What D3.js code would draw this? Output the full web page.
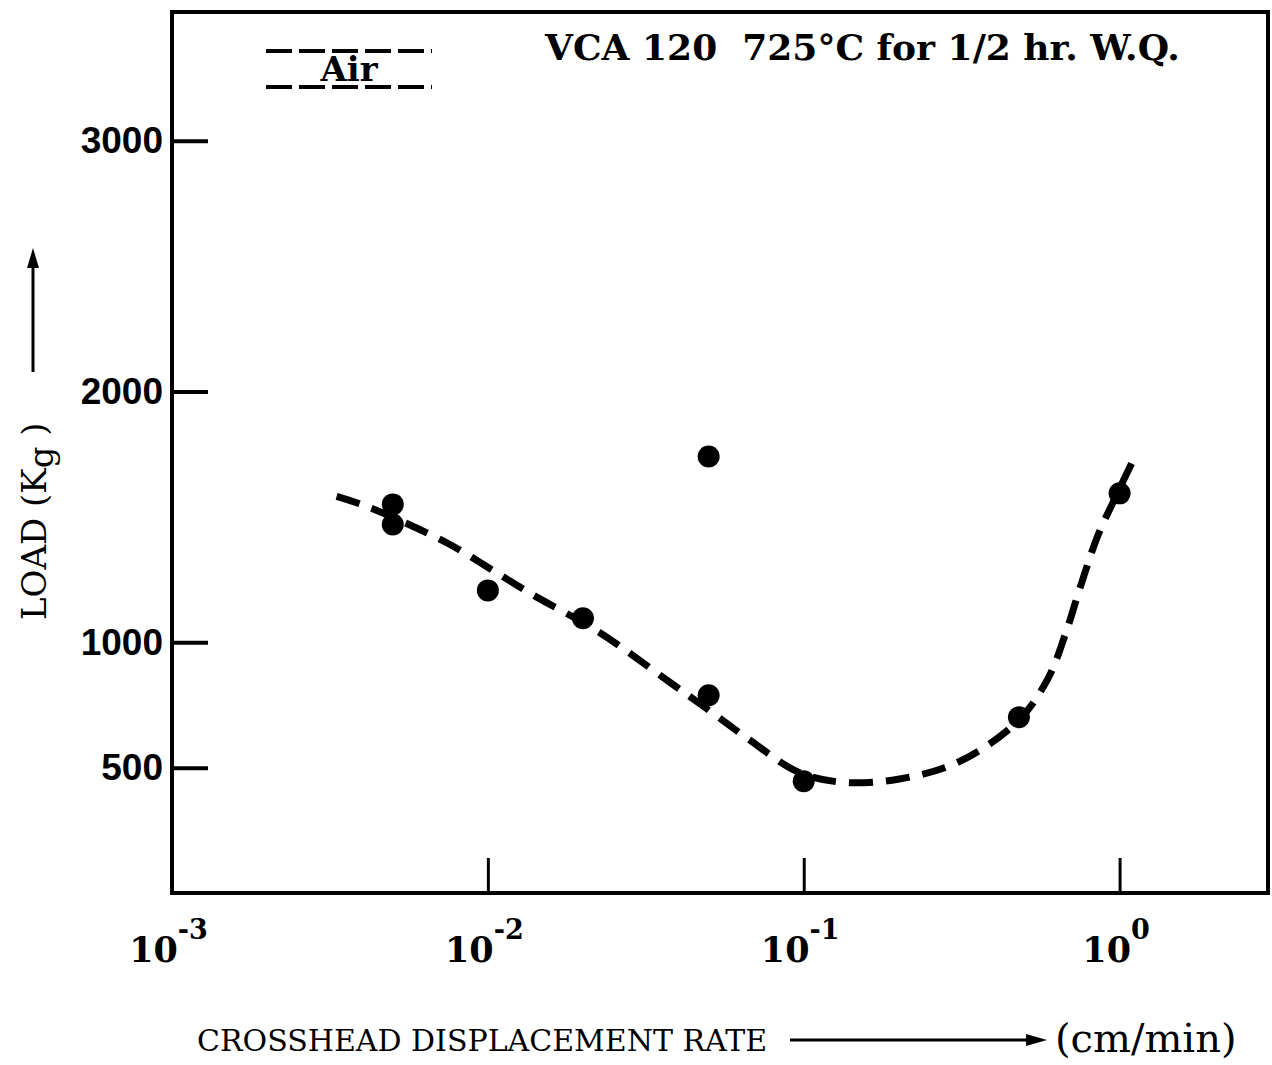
<!DOCTYPE html>
<html>
<head>
<meta charset="utf-8">
<script src="https://cdn.jsdelivr.net/npm/d3@7"></script>
<style>
  body { margin: 0; background: #fff; }
  svg { display: block; }
</style>
</head>
<body>
<div id="chart"></div>
<script>
// crosshead rate (cm/min) and load (Kg) of the test points
const pointRate = [0.005, 0.005, 0.01, 0.02, 0.05, 0.05, 0.1, 0.48, 1.0];
const pointLoad = [1550, 1470, 1207, 1096, 1741, 789, 446, 701, 1594];

// dashed trend curve
const curveRate = [0.00332, 0.00413, 0.00738, 0.01086, 0.0138, 0.0225, 0.0365, 0.0511, 0.0668,
                   0.0962, 0.1315, 0.199, 0.308, 0.476, 0.592, 0.670, 0.752, 0.851, 0.963, 1.114];
const curveLoad = [1582, 1542, 1398, 1271, 1191, 1040, 853, 721, 614,
                   482, 442, 454, 522, 685, 853, 1024, 1223, 1422, 1570, 1737];

const yTicks = [500, 1000, 2000, 3000];
const xTicks = [1e-3, 1e-2, 1e-1, 1];
const xTickExp = ["-3", "-2", "-1", "0"];

const W = 1272, H = 1065;
const margin = { top: 12, right: 4, bottom: 172, left: 172 };
const width = W - margin.left - margin.right,
      height = H - margin.top - margin.bottom;

const serif = "'DejaVu Serif', serif";
const sans = "'Liberation Sans', Arial, sans-serif";

const svg = d3.select("#chart").append("svg")
  .attr("width", W)
  .attr("height", H);

const g = svg.append("g")
  .attr("transform", `translate(${margin.left},${margin.top})`);

const x = d3.scaleLog()
  .domain([1e-3, 2.95])
  .range([0, width]);

const y = d3.scaleLinear()
  .domain([0, 3514])
  .range([height, 0]);

// frame
g.append("rect")
  .attr("width", width)
  .attr("height", height)
  .attr("fill", "none")
  .attr("stroke", "#000")
  .attr("stroke-width", 4);

// y axis, ticks pointing inward
const yAxis = g.append("g")
  .call(d3.axisLeft(y).tickValues(yTicks).tickFormat(d3.format("d"))
    .tickSizeInner(-36).tickSizeOuter(0).tickPadding(9));
yAxis.select(".domain").remove();
yAxis.selectAll(".tick line").attr("stroke", "#000").attr("stroke-width", 4);
yAxis.selectAll(".tick text")
  .attr("font-family", sans)
  .attr("font-weight", "bold")
  .attr("font-size", 37)
  .attr("fill", "#000");

// x axis, ticks pointing inward, labels as powers of ten
const xAxis = g.append("g")
  .attr("transform", `translate(0,${height})`)
  .call(d3.axisBottom(x).tickValues(xTicks).tickSizeInner(-35).tickSizeOuter(0).tickFormat(""));
xAxis.select(".domain").remove();
xAxis.selectAll(".tick line").attr("stroke", "#000").attr("stroke-width", 3);
xAxis.selectAll(".tick text").remove();
xAxis.selectAll(".tick").append("text")
  .attr("y", 69)
  .attr("x", -4)
  .attr("text-anchor", "middle")
  .attr("font-family", serif)
  .attr("font-weight", "bold")
  .attr("fill", "#000")
  .each(function(d, i) {
    const t = d3.select(this);
    t.append("tspan").attr("font-size", 35).text("10");
    t.append("tspan").attr("font-size", 27).attr("dy", -23).text(xTickExp[i]);
  });

// dashed curve
const line = d3.line()
  .x((d, i) => x(curveRate[i]))
  .y((d, i) => y(curveLoad[i]))
  .curve(d3.curveCatmullRom.alpha(0.5));

g.append("path")
  .datum(curveRate)
  .attr("d", line)
  .attr("fill", "none")
  .attr("stroke", "#000")
  .attr("stroke-width", 7)
  .attr("stroke-dasharray", "24 13");

// points
g.selectAll(".pt")
  .data(pointRate)
  .enter().append("circle")
  .attr("class", "pt")
  .attr("cx", d => x(d))
  .attr("cy", (d, i) => y(pointLoad[i]))
  .attr("r", 11)
  .attr("fill", "#000");

// legend
const legend = svg.append("g");
[51, 87].forEach(ly => {
  legend.append("line")
    .attr("x1", 266).attr("x2", 432)
    .attr("y1", ly).attr("y2", ly)
    .attr("stroke", "#000")
    .attr("stroke-width", 4)
    .attr("stroke-dasharray", "26 7");
});
legend.append("text")
  .attr("x", 349).attr("y", 81)
  .attr("text-anchor", "middle")
  .attr("font-family", serif)
  .attr("font-weight", "bold")
  .attr("font-size", 34)
  .text("Air");

svg.append("text")
  .attr("x", 545).attr("y", 60)
  .attr("font-family", serif)
  .attr("font-weight", "bold")
  .attr("font-size", 36)
  .attr("xml:space", "preserve")
  .text("VCA 120  725°C for 1/2 hr. W.Q.");

// y axis title with arrow
const yl = svg.append("g").attr("transform", "translate(46,620) rotate(-90)");
const ylt = yl.append("text")
  .attr("font-family", serif)
  .attr("font-size", 34)
  .style("fill", "#000");
ylt.append("tspan").text("LOAD (K");
ylt.append("tspan").attr("dy", 7).text("g");
ylt.append("tspan").attr("dy", -7).text(" )");
yl.append("line")
  .attr("x1", 248).attr("x2", 355)
  .attr("y1", -13).attr("y2", -13)
  .attr("stroke", "#000").attr("stroke-width", 3);
yl.append("path")
  .attr("d", "M372,-13 L352,-19 L352,-7 Z")
  .attr("fill", "#000");

// x axis title with arrow
svg.append("text")
  .attr("x", 197).attr("y", 1051)
  .attr("font-family", serif)
  .attr("font-size", 30)
  .text("CROSSHEAD DISPLACEMENT RATE");
svg.append("line")
  .attr("x1", 790).attr("x2", 1030)
  .attr("y1", 1040).attr("y2", 1040)
  .attr("stroke", "#000").attr("stroke-width", 3);
svg.append("path")
  .attr("d", "M1047,1040 L1026,1034 L1026,1046 Z")
  .attr("fill", "#000");
svg.append("text")
  .attr("x", 1055).attr("y", 1052)
  .attr("font-family", serif)
  .attr("font-size", 40)
  .text("(cm/min)");
</script>
</body>
</html>
